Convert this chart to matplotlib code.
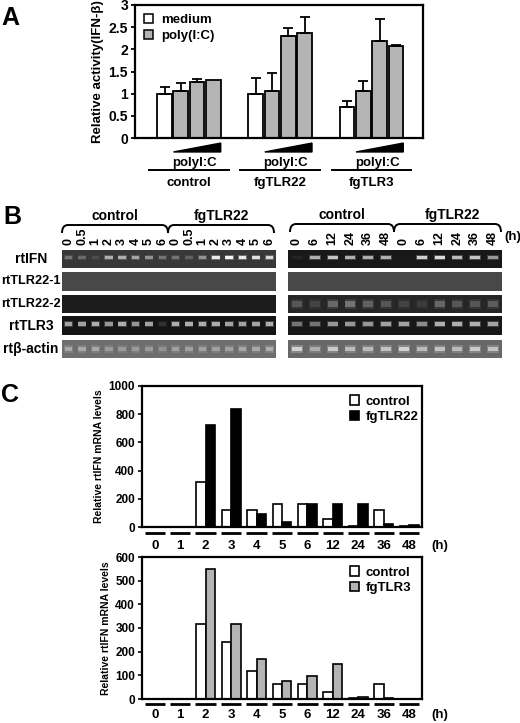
import matplotlib
matplotlib.use("Agg")
import matplotlib.pyplot as plt
from matplotlib.patches import Patch, PathPatch
from matplotlib.path import Path
from matplotlib.transforms import blended_transform_factory as btf
import numpy as np

plt.rcParams['font.family'] = ['Liberation Sans', 'DejaVu Sans']
plt.rcParams['font.weight'] = 'bold'
plt.rcParams['axes.labelweight'] = 'bold'

W, H = 520, 723

# ---------------- data ----------------
groups_A = ['control', 'fgTLR22', 'fgTLR3']
medium_A = [1.0, 1.0, 0.7]
medium_err = [0.15, 0.36, 0.14]
poly_A = [[1.07, 1.27, 1.30], [1.07, 2.31, 2.37], [1.07, 2.19, 2.08]]
poly_err = [[0.16, 0.05, 0.0], [0.39, 0.16, 0.35], [0.21, 0.49, 0.02]]
yticks_A = [0, 0.5, 1, 1.5, 2, 2.5, 3]
ytick_labels_A = ['0', '0.5', '1', '1.5', '2', '2.5', '3']

lanes_L = ['0', '0.5', '1', '2', '3', '4', '5', '6'] * 2
lanes_R = ['0', '6', '12', '24', '36', '48'] * 2
gel_rows = ['rtIFN', 'rtTLR22-1', 'rtTLR22-2', 'rtTLR3', 'rt\u03b2-actin']
ifn_L = [0.3, 0.25, 0.1, 0.6, 0.6, 0.55, 0.45, 0.3, 0.3, 0.2, 0.45, 0.9, 0.95, 0.9, 0.85, 0.8]
tlr22a_L = [0.0] * 16
tlr22b_L = [0.0] * 16
tlr3_L = [0.6, 0.6, 0.65, 0.55, 0.65, 0.55, 0.6, 0.12, 0.65, 0.65, 0.65, 0.65, 0.6, 0.6, 0.6, 0.65]
actin_L = [0.4, 0.4, 0.4, 0.3, 0.3, 0.3, 0.3, 0.25, 0.35, 0.35, 0.35, 0.35, 0.35, 0.4, 0.4, 0.45]
ifn_R = [0.05, 0.65, 0.75, 0.65, 0.65, 0.65, 0.0, 0.8, 0.85, 0.7, 0.75, 0.55]
tlr22a_R = [0.0] * 12
tlr22b_R = [0.22, 0.14, 0.3, 0.35, 0.27, 0.22, 0.14, 0.1, 0.3, 0.22, 0.22, 0.25]
tlr3_R = [0.4, 0.4, 0.55, 0.55, 0.55, 0.6, 0.6, 0.5, 0.65, 0.65, 0.65, 0.6]
actin_R = [0.7, 0.45, 0.65, 0.55, 0.55, 0.6, 0.7, 0.55, 0.6, 0.55, 0.65, 0.6]

times_C = ['0', '1', '2', '3', '4', '5', '6', '12', '24', '36', '48']
ctrl_C1 = [0, 0, 320, 120, 120, 160, 160, 60, 8, 120, 8]
tlr22_C1 = [0, 0, 725, 840, 95, 35, 160, 160, 160, 20, 15]
ctrl_C2 = [0, 0, 315, 240, 120, 65, 65, 30, 5, 65, 0]
tlr3_C2 = [0, 0, 550, 315, 170, 75, 97, 148, 8, 5, 0]

GRAY = '#b4b4b4'

fig = plt.figure(figsize=(W / 100, H / 100), dpi=100)


def px_axes(x0, y0, x1, y1, **kw):
    return fig.add_axes([x0 / W, 1 - y1 / H, (x1 - x0) / W, (y1 - y0) / H], **kw)


ov = fig.add_axes([0, 0, 1, 1], zorder=10)
ov.set_xlim(0, W)
ov.set_ylim(H, 0)
ov.axis('off')

# ---------------- Panel A ----------------
axA = px_axes(135, 5, 423, 138)
gstep = 5.6
bw = 0.9
for g in range(3):
    base = g * gstep
    axA.bar(base, medium_A[g], width=bw, color='white', edgecolor='black', lw=1.3,
            yerr=[[0], [medium_err[g]]], capsize=3.5, error_kw=dict(lw=1.3, capthick=1.3))
    for k in range(3):
        e = poly_err[g][k]
        axA.bar(base + 1 + k, poly_A[g][k], width=bw, color=GRAY, edgecolor='black', lw=1.3,
                yerr=[[0], [e]] if e > 0 else None, capsize=3.5,
                error_kw=dict(lw=1.3, capthick=1.3))
axA.set_xlim(-1.81, 15.86)
axA.set_ylim(0, 3)
axA.set_yticks(yticks_A)
axA.set_yticklabels(ytick_labels_A, fontsize=10, fontweight='bold')
axA.set_xticks([])
axA.tick_params(axis='y', direction='out', length=3, width=1.3, pad=2)
for s in axA.spines.values():
    s.set_linewidth(1.6)
axA.set_ylabel('Relative activity(IFN-\u03b2)', fontsize=9.5, fontweight='bold', labelpad=3)
axA.legend(handles=[Patch(facecolor='white', edgecolor='black', lw=1.1),
                    Patch(facecolor=GRAY, edgecolor='black', lw=1.1)],
           labels=['medium', 'poly(I:C)'], loc='upper left', frameon=False,
           handlelength=0.7, handleheight=0.7, handletextpad=0.6, labelspacing=0.25,
           borderaxespad=0.3, prop=dict(size=9.5, weight='bold'), bbox_to_anchor=(0.0, 1.0))
trA = btf(axA.transData, axA.transAxes)
for g in range(3):
    base = g * gstep
    x0, x1 = base + 1 - bw / 2, base + 3 + bw / 2
    axA.fill([x0, x1, x1], [-0.105, -0.038, -0.105], color='black', transform=trA, clip_on=False)
    axA.text(base + 1.85, -0.19, 'polyI:C', transform=trA, ha='center', va='center',
             fontsize=9.5, fontweight='bold')
    axA.plot([base - 0.95, base + 3.95], [-0.24, -0.24], color='black', lw=1.4,
             transform=trA, clip_on=False)
    axA.text(base + 1.5, -0.335, groups_A[g], transform=trA, ha='center', va='center',
             fontsize=9.5, fontweight='bold')

ov.text(10, 18, 'A', fontsize=18, fontweight='bold', ha='center', va='center')

# ---------------- Panel B (gels) ----------------
row_y = [(250, 268), (272, 291), (295, 313), (316, 335), (340, 358)]
bgL = ['#383838', '#484848', '#1c1c1c', '#141414', '#6e6e6e']
bgR = ['#181818', '#484848', '#262626', '#181818', '#686868']
dataL = [ifn_L, tlr22a_L, tlr22b_L, tlr3_L, actin_L]
dataR = [ifn_R, tlr22a_R, tlr22b_R, tlr3_R, actin_R]
band_pos = [0.58, 0.5, 0.5, 0.6, 0.5]
band_h = [0.2, 0.2, 0.32, 0.2, 0.26]


def mix(bg, t):
    c = np.array(matplotlib.colors.to_rgb(bg))
    return tuple(c + (1 - c) * t)


def draw_gel(x0, x1, data, bgs, n):
    for r, (y0, y1) in enumerate(row_y):
        ax = px_axes(x0, y0, x1, y1)
        ax.set_facecolor(bgs[r])
        ax.set_xlim(-0.5, n - 0.5)
        ax.set_ylim(0, 1)
        ax.set_xticks([])
        ax.set_yticks([])
        for s in ax.spines.values():
            s.set_visible(False)
        vals = data[r]
        lanes = np.arange(n)
        h = band_h[r]
        ax.bar(lanes, [h * 1.6] * n, bottom=band_pos[r] - h * 0.8, width=0.66,
               color=[mix(bgs[r], v * 0.3) for v in vals], lw=0)
        ax.bar(lanes, [h] * n, bottom=band_pos[r] - h / 2, width=0.56,
               color=[mix(bgs[r], v) for v in vals], lw=0)


draw_gel(62, 276, dataL, bgL, 16)
draw_gel(288, 502, dataR, bgR, 12)

for r, name in enumerate(gel_rows):
    yc = (row_y[r][0] + row_y[r][1]) / 2
    if name.startswith('rtTLR22'):
        ov.text(1, yc, name, ha='left', va='center', fontsize=9.2, fontweight='bold')
    else:
        ov.text(31, yc, name, ha='center', va='center', fontsize=10, fontweight='bold')

for i, lab in enumerate(lanes_L):
    xc = 62 + (276 - 62) / 16 * (i + 0.5)
    ov.text(xc, 245, lab, rotation=90, ha='center', va='bottom', fontsize=9, fontweight='bold')
for i, lab in enumerate(lanes_R):
    xc = 288 + (502 - 288) / 12 * (i + 0.5)
    ov.text(xc, 245, lab, rotation=90, ha='center', va='bottom', fontsize=9, fontweight='bold')
ov.text(504, 243, '(h)', ha='left', va='bottom', fontsize=9.5, fontweight='bold')


def brace(x0, x1, ytop, ylow):
    r = 6
    verts = [(x0, ylow), (x0, ytop), (x0 + r, ytop), (x1 - r, ytop), (x1, ytop), (x1, ylow)]
    codes = [Path.MOVETO, Path.CURVE3, Path.CURVE3, Path.LINETO, Path.CURVE3, Path.CURVE3]
    ov.add_patch(PathPatch(Path(verts, codes), fill=False, lw=1.4, color='black'))


brace(62, 168, 225, 233)
brace(168, 274, 225, 233)
brace(290, 394, 224, 232)
brace(394, 501, 224, 232)
ov.text(115, 216, 'control', ha='center', va='center', fontsize=10, fontweight='bold')
ov.text(221, 216, 'fgTLR22', ha='center', va='center', fontsize=10, fontweight='bold')
ov.text(342, 215, 'control', ha='center', va='center', fontsize=10, fontweight='bold')
ov.text(452, 215, 'fgTLR22', ha='center', va='center', fontsize=10, fontweight='bold')
ov.text(12, 217, 'B', fontsize=18, fontweight='bold', ha='center', va='center')

# ---------------- Panel C ----------------


def panel_c(rect, ctrl, other, other_color, other_label, ymax, ystep, line_y, lab_y):
    ax = px_axes(*rect)
    x = np.arange(len(times_C))
    w = 0.37
    ax.bar(x - w / 2, ctrl, width=w, color='white', edgecolor='black', lw=1.2, label='control')
    ax.bar(x + w / 2, other, width=w, color=other_color, edgecolor='black', lw=1.2,
           label=other_label)
    ax.set_xlim(-0.5, len(times_C) - 0.5)
    ax.set_ylim(0, ymax)
    ax.set_yticks(np.arange(0, ymax + 1, ystep))
    ax.set_yticklabels([str(v) for v in np.arange(0, ymax + 1, ystep)], fontsize=8.5,
                       fontweight='bold')
    ax.set_xticks([])
    ax.tick_params(axis='y', direction='out', length=3, width=1.2, pad=2)
    for s in ax.spines.values():
        s.set_linewidth(1.6)
    ax.set_ylabel('Relative rtIFN mRNA levels', fontsize=7.5, fontweight='bold', labelpad=3)
    ax.legend(loc='upper left', bbox_to_anchor=(0.715, 0.99), frameon=False,
              handlelength=0.7, handleheight=0.7, handletextpad=0.5, labelspacing=0.25,
              borderaxespad=0.2, prop=dict(size=9.5, weight='bold'))
    tr = btf(ax.transData, ax.transAxes)
    for i, t in enumerate(times_C):
        ax.plot([i - 0.4, i + 0.4], [line_y, line_y], color='black', lw=2, transform=tr,
                clip_on=False, solid_capstyle='butt')
        ax.text(i, lab_y, t, transform=tr, ha='center', va='center', fontsize=9.5,
                fontweight='bold')
    ax.text(10.88, lab_y, '(h)', transform=tr, ha='left', va='center', fontsize=9.5,
            fontweight='bold')
    return ax


panel_c((142, 386, 422, 527), ctrl_C1, tlr22_C1, 'black', 'fgTLR22', 1000, 200, -0.043, -0.135)
panel_c((142, 557, 422, 699), ctrl_C2, tlr3_C2, GRAY, 'fgTLR3', 600, 100, -0.035, -0.113)
ov.text(10, 395, 'C', fontsize=18, fontweight='bold', ha='center', va='center')

fig.savefig('out.png', dpi=100)
